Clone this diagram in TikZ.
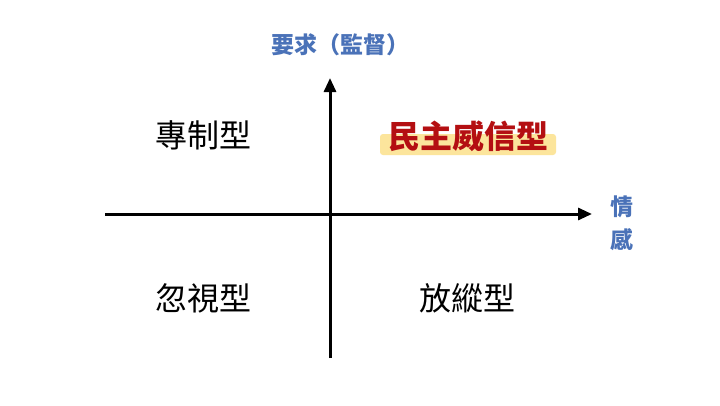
\documentclass[tikz,border=0pt]{standalone}
\usepackage{fontspec}
\newfontfamily\cjk{Noto Sans CJK TC}
\newfontfamily\cjkm{Noto Sans CJK TC Medium}
\usetikzlibrary{arrows.meta}
\definecolor{ablue}{HTML}{4A72B8}
\definecolor{dred}{HTML}{B40F12}
\definecolor{hl}{HTML}{FCE59C}
\begin{document}
\begin{tikzpicture}[x=1pt,y=-1pt,
  lab/.style={font=\cjk\fontsize{32}{34}\selectfont, inner sep=0pt},
  axl/.style={font=\cjk\bfseries\fontsize{23}{26}\selectfont, text=ablue, inner sep=0pt},
  axis/.style={line width=3pt,-{Triangle[length=14pt,width=12pt]}}]
\useasboundingbox[fill=white] (0,0) rectangle (720,405);
\coordinate (hs) at (105,214); \coordinate (he) at (592,214);
\coordinate (vs) at (330,358); \coordinate (ve) at (330,78);
\draw[axis] (hs) -- (he);
\draw[axis] (vs) -- (ve);
\node[axl] (yl) at (340,45) {要求（監督）};
\node[axl] (x1) at (622,207) {情};
\node[axl] (x2) at (622,240) {感};
\fill[hl, rounded corners=3pt] (380,134) rectangle (556,155);
\node[lab] (q1) at (203,135) {專制型};
\node[lab, text=dred, font=\cjk\bfseries\fontsize{32}{34}\selectfont] (q2) at (468,136) {民主威信型};
\node[lab] (q3) at (203,298) {忽視型};
\node[lab] (q4) at (467,298) {放縱型};
\end{tikzpicture}
\end{document}
